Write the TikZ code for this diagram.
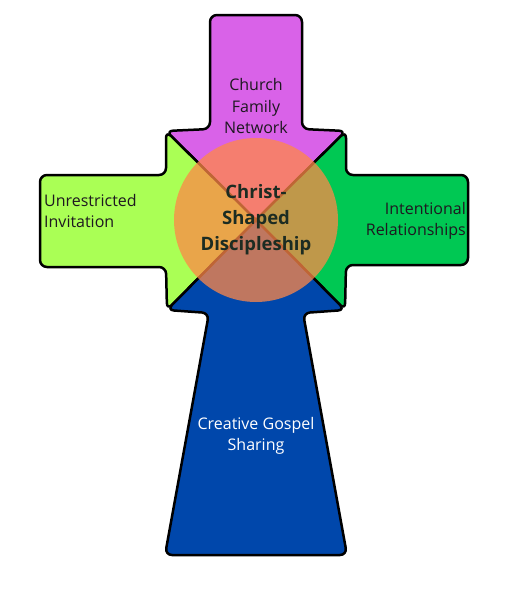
\documentclass[tikz,border=0pt]{standalone}
\usepackage{fontspec}
\setmainfont{Open Sans}
\usetikzlibrary{positioning}
\definecolor{Orchid}{RGB}{217,98,232}
\definecolor{Lime}{RGB}{170,255,85}
\definecolor{Emerald}{RGB}{0,200,83}
\definecolor{Cobalt}{RGB}{0,71,171}
\definecolor{Tangerine}{RGB}{255,136,71}
\definecolor{Ink}{RGB}{30,24,32}
\definecolor{Forest}{RGB}{28,44,34}

\begin{document}
\begin{tikzpicture}[x=1pt,y=-1pt,
    arm/.style={draw=black,line width=2.5pt,line join=round,rounded corners=7pt},
    armtext/.style={font=\fontsize{16}{21.5}\selectfont,text=Ink,align=center,inner sep=0pt},
    hubdisc/.style={fill=Tangerine,fill opacity=0.75,draw=none},
    hubtext/.style={font=\bfseries\fontsize{18.5}{26}\selectfont,text=Forest,align=center,inner sep=0pt}
]

\useasboundingbox (0,0) rectangle (507,597);
\coordinate (hub) at (256,220);

% Top arm
\draw[arm,fill=Orchid] (hub) -- (166,131) -- (210,129) -- (210,15) -- (302,15) -- (302,129) -- (346,131) [sharp corners] -- cycle;

% Left arm
\draw[arm,fill=Lime] (hub) -- (166,131) -- (166,175) -- (40,175) -- (40,267) -- (166,267) -- (167,310) [sharp corners] -- cycle;

% Right arm
\draw[arm,fill=Emerald] (hub) -- (346,131) -- (346,175) -- (468,175) -- (468,265) -- (346,265) -- (345,310) [sharp corners] -- cycle;

% Bottom stem
\draw[arm,fill=Cobalt] (hub) -- (167,310) -- (209,313) -- (165,555) -- (347,555) -- (303,313) -- (345,310) [sharp corners] -- cycle;

% Centre circle
\fill[hubdisc] (hub) circle[radius=82pt];

% Labels
\node[armtext] (church) at (256,106) {Church\\Family\\Network};
\node[armtext,align=left,anchor=west] (invite) at (44,211) {Unrestricted\\Invitation};
\node[armtext,align=right,anchor=east] (relate) at (466,221) {Intentional\\Relationships};
\node[armtext,text=white] (gospel) at (256,436) {Creative Gospel\\Sharing};
\node[hubtext] (christ) at (hub) {Christ-\\Shaped\\Discipleship};

\end{tikzpicture}
\end{document}
